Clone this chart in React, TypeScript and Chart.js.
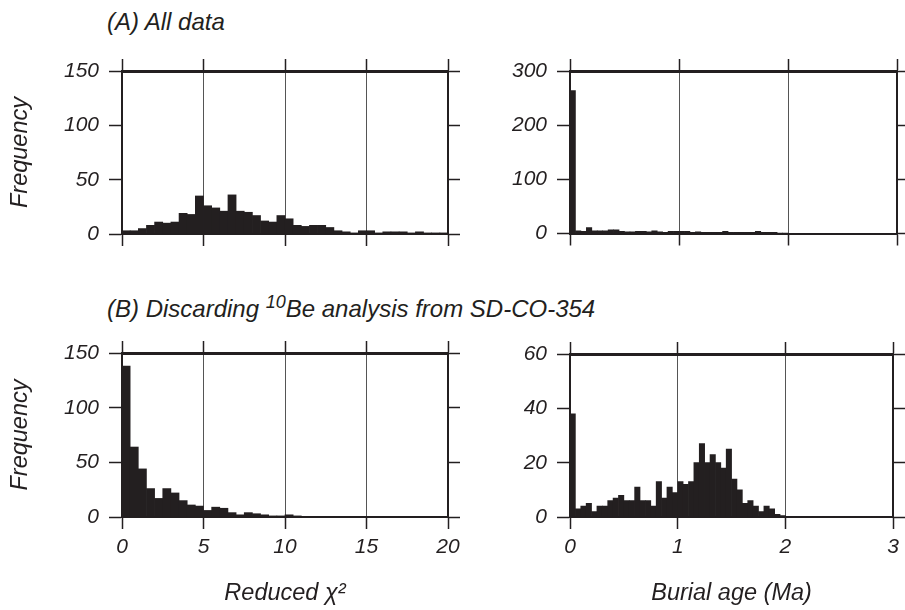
import React, { useEffect, useRef } from "react";
import { Chart, registerables } from "chart.js";

Chart.register(...registerables);

const INK = "#231f20";
const GRID = "#555555";
const FAMILY = "'Liberation Sans', Arial, Helvetica, sans-serif";

// Bin widths and axis ticks
const chiBinWidth = 0.5;
const ageBinWidth = 0.05;
const chiTicks = [0, 5, 10, 15, 20];
const ageTicks = [0, 1, 2, 3];

// (A) All data — reduced chi-square histogram (bins of 0.5 from 0 to 20)
const chiAll = [
  3, 3, 5, 8, 11, 10, 11, 19, 18, 35, 26, 24, 21, 36, 21, 20, 17, 12, 11, 17,
  14, 8, 7, 8, 8, 6, 3, 2, 1, 3, 3, 1, 2, 2, 2, 1, 2, 1, 1, 1,
];

// (A) All data — burial age histogram (bins of 0.05 Ma from 0 to 3)
const ageAll = [
  264, 5, 4, 11, 5, 5, 5, 7, 7, 4, 3, 3, 4, 4, 3, 5, 3, 2, 4, 4,
  4, 4, 2, 3, 2, 2, 2, 2, 4, 2, 2, 2, 2, 2, 4, 2, 2, 2, 1, 1,
  0, 0, 0, 0, 0, 0, 0, 0, 0, 0, 0, 0, 0, 0, 0, 0, 0, 0, 0, 0,
];

// (B) Discarding 10Be analysis — reduced chi-square histogram
const chiDiscard = [
  138, 64, 44, 26, 17, 26, 22, 15, 11, 10, 6, 9, 8, 4, 2, 4, 3, 2, 1, 1,
  2, 1, 0, 0, 0, 0, 0, 0, 0, 0, 0, 0, 0, 0, 0, 0, 0, 0, 0, 0,
];

// (B) Discarding 10Be analysis — burial age histogram
const ageDiscard = [
  38, 3, 4, 5, 2, 4, 4, 6, 7, 8, 6, 6, 11, 6, 6, 4, 13, 7, 11, 9,
  13, 12, 13, 20, 27, 20, 23, 20, 18, 25, 14, 10, 5, 6, 4, 2, 4, 3, 1, 0.5,
  0, 0, 0, 0, 0, 0, 0, 0, 0, 0, 0, 0, 0, 0, 0, 0, 0, 0, 0, 0,
];

type Area = { left: number; top: number; right: number; bottom: number };

type PanelProps = {
  values: number[];
  binWidth: number;
  xTicks: number[];
  yMax: number;
  yStep: number;
  showXLabels: boolean;
  xTitle?: string;
  yTitle?: string;
  left: number;
  top: number;
  width: number;
  height: number;
  area: Area;
};

function Panel(p: PanelProps) {
  const ref = useRef<HTMLCanvasElement>(null);

  useEffect(() => {
    if (!ref.current) return;
    const tickFont = { family: FAMILY, size: 21, style: "italic" as const };
    const titleFont = { family: FAMILY, size: 23.5, style: "italic" as const };
    const xMin = p.xTicks[0];
    const xMax = p.xTicks[p.xTicks.length - 1];
    const setXTicks = (s: any) => {
      s.ticks = p.xTicks.map((v) => ({ value: v }));
    };
    const data = p.values.map((v, i) => ({ x: (i + 0.5) * p.binWidth, y: v }));

    const chart = new Chart(ref.current, {
      type: "bar",
      data: {
        datasets: [
          {
            data: data as any,
            backgroundColor: INK,
            borderWidth: 0,
            barPercentage: 1,
            categoryPercentage: 1,
          },
        ],
      },
      options: {
        animation: false,
        responsive: false,
        maintainAspectRatio: false,
        layout: { padding: 0 },
        plugins: { legend: { display: false }, tooltip: { enabled: false } },
        scales: {
          x: {
            type: "linear",
            position: "bottom",
            min: xMin,
            max: xMax,
            offset: false,
            afterFit: (s: any) => {
              s.height = p.height - p.area.bottom;
            },
            afterBuildTicks: setXTicks,
            ticks: {
              display: p.showXLabels,
              font: tickFont,
              color: INK,
              padding: 6,
              maxRotation: 0,
              autoSkip: false,
            },
            grid: {
              offset: false,
              drawOnChartArea: true,
              color: GRID,
              lineWidth: 1,
              tickLength: 12,
              tickColor: INK,
              tickWidth: 1.5,
            },
            border: { display: true, color: INK, width: 2 },
            title: {
              display: !!p.xTitle,
              text: p.xTitle || "",
              font: titleFont,
              color: INK,
              padding: { top: 0, bottom: 2 },
            },
          },
          xTop: {
            type: "linear",
            position: "top",
            min: xMin,
            max: xMax,
            offset: false,
            afterFit: (s: any) => {
              s.height = p.area.top;
            },
            afterBuildTicks: setXTicks,
            ticks: { display: false },
            grid: {
              offset: false,
              drawOnChartArea: false,
              color: INK,
              tickLength: 12,
              tickColor: INK,
              tickWidth: 1.5,
            },
            border: { display: true, color: INK, width: 3 },
          },
          y: {
            type: "linear",
            position: "left",
            min: 0,
            max: p.yMax,
            afterFit: (s: any) => {
              s.width = p.area.left;
            },
            ticks: {
              stepSize: p.yStep,
              font: tickFont,
              color: INK,
              padding: 10,
            },
            grid: {
              drawOnChartArea: false,
              color: INK,
              tickLength: 13,
              tickColor: INK,
              tickWidth: 1.5,
            },
            border: { display: true, color: INK, width: 2 },
            title: {
              display: !!p.yTitle,
              text: p.yTitle || "",
              font: titleFont,
              color: INK,
              padding: { top: 6, bottom: 0 },
            },
          },
          yRight: {
            type: "linear",
            position: "right",
            min: 0,
            max: p.yMax,
            afterFit: (s: any) => {
              s.width = p.width - p.area.right;
            },
            ticks: { display: false, stepSize: p.yStep },
            grid: {
              drawOnChartArea: false,
              color: INK,
              tickLength: 12,
              tickColor: INK,
              tickWidth: 1.5,
            },
            border: { display: true, color: INK, width: 2 },
          },
        },
      } as any,
    });
    return () => chart.destroy();
  }, []);

  return (
    <canvas
      ref={ref}
      width={p.width}
      height={p.height}
      style={{
        position: "absolute",
        left: p.left,
        top: p.top,
        width: p.width,
        height: p.height,
      }}
    />
  );
}

const headStyle: React.CSSProperties = {
  position: "absolute",
  left: 107,
  fontFamily: FAMILY,
  fontStyle: "italic",
  fontSize: 24,
  lineHeight: "24px",
  color: INK,
  whiteSpace: "nowrap",
};

export default function App() {
  return (
    <div
      style={{
        position: "fixed",
        left: 0,
        top: 0,
        width: 905,
        height: 610,
        background: "#ffffff",
        overflow: "hidden",
      }}
    >
      <div style={{ ...headStyle, top: 10 }}>(A) All data</div>
      <div style={{ ...headStyle, top: 297 }}>
        (B) Discarding{" "}
        <sup style={{ fontSize: 18, verticalAlign: "9px", lineHeight: 0 }}>10</sup>
        Be analysis from SD-CO-354
      </div>

      <Panel
        values={chiAll}
        binWidth={chiBinWidth}
        xTicks={chiTicks}
        yMax={150}
        yStep={50}
        showXLabels={false}
        yTitle="Frequency"
        left={0}
        top={40}
        width={470}
        height={220}
        area={{ left: 122, top: 31, right: 448, bottom: 194 }}
      />
      <Panel
        values={ageAll}
        binWidth={ageBinWidth}
        xTicks={ageTicks}
        yMax={300}
        yStep={100}
        showXLabels={false}
        left={470}
        top={40}
        width={435}
        height={220}
        area={{ left: 100, top: 31, right: 427, bottom: 193.5 }}
      />
      <Panel
        values={chiDiscard}
        binWidth={chiBinWidth}
        xTicks={chiTicks}
        yMax={150}
        yStep={50}
        showXLabels={true}
        xTitle="Reduced χ²"
        yTitle="Frequency"
        left={0}
        top={320}
        width={470}
        height={290}
        area={{ left: 122, top: 33, right: 448, bottom: 197 }}
      />
      <Panel
        values={ageDiscard}
        binWidth={ageBinWidth}
        xTicks={ageTicks}
        yMax={60}
        yStep={20}
        showXLabels={true}
        xTitle="Burial age (Ma)"
        left={470}
        top={320}
        width={435}
        height={290}
        area={{ left: 100, top: 34, right: 427, bottom: 197 }}
      />
    </div>
  );
}
